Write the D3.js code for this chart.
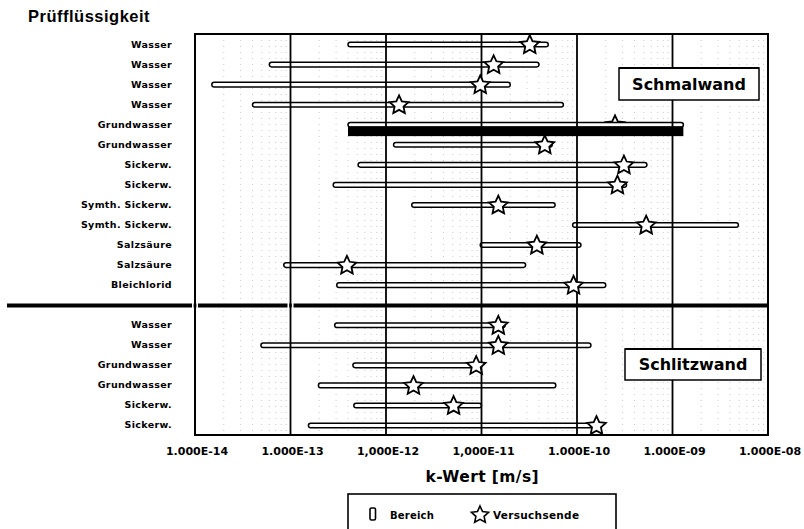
<!DOCTYPE html>
<html><head><meta charset="utf-8">
<script src="https://cdn.jsdelivr.net/npm/d3@7"></script>
<style>
html,body{margin:0;padding:0;background:#fff;}
svg{display:block;}
text{font-family:"DejaVu Sans",Verdana,sans-serif;font-weight:bold;fill:#000;}
</style></head>
<body>
<svg id="chart" width="804" height="529"></svg>
<script>
// ---- data ----
const categories = ["Wasser","Wasser","Wasser","Wasser","Grundwasser","Grundwasser","Sickerw.","Sickerw.","Symth. Sickerw.","Symth. Sickerw.","Salzsäure","Salzsäure","Bleichlorid","","Wasser","Wasser","Grundwasser","Grundwasser","Sickerw.","Sickerw."];
const rangeLow  = [4.0e-13,6.0e-14,1.5e-14,4.0e-14,4.0e-13,1.2e-12,5.1e-13,2.8e-13,1.86e-12,9.0e-11,9.7e-12,8.5e-14,3.05e-13,null,2.9e-13,4.9e-14,4.5e-13,1.96e-13,4.6e-13,1.54e-13];
const rangeHigh = [5.0e-11,4.0e-11,2.0e-11,7.2e-11,1.3e-9,5.5e-11,5.4e-10,3.3e-10,5.9e-11,4.9e-9,1.1e-10,2.9e-11,2.0e-10,null,1.77e-11,1.4e-10,9.5e-12,6.0e-11,1.0e-11,1.7e-10];
const testEnd   = [3.2e-11,1.34e-11,9.7e-12,1.37e-12,2.5e-10,4.6e-11,3.1e-10,2.65e-10,1.5e-11,5.3e-10,3.8e-11,3.9e-13,9.2e-11,null,1.5e-11,1.5e-11,8.8e-12,1.94e-12,5.1e-12,1.6e-10];
const filledRow = [false,false,false,false,true,false,false,false,false,false,false,false,false,false,false,false,false,false,false,false];
const separatorIndex = 13;
const tickValues = [1e-14,1e-13,1e-12,1e-11,1e-10,1e-9,1e-8];
const tickLabels = ["1.000E-14","1.000E-13","1,000E-12","1,000E-11","1.000E-10","1.000E-09","1.000E-08"];
const groupNames = ["Schmalwand","Schlitzwand"];
const yTitle = "Prüfflüssigkeit";
const xTitle = "k-Wert [m/s]";
const legendLabels = ["Bereich","Versuchsende"];

// ---- layout ----
const svg = d3.select("#chart");
const L = 195, R = 768, T = 34, B = 435;
const x = d3.scaleLog().domain([1e-14,1e-8]).range([L,R]);
const y = d3.scaleBand().domain(d3.range(categories.length)).range([T,B]).padding(0);
const cy = i => y(i) + y.bandwidth()/2;

function starPath(r){
  const pts = d3.range(10).map(k=>{
    const rr = k%2===0 ? r : r*0.48;
    const a = -Math.PI/2 + k*Math.PI/5;
    return [rr*Math.cos(a), rr*Math.sin(a)];
  });
  return d3.line()(pts) + "Z";
}

// minor gridlines (dotted, faint)
const minors = [];
for(let e=-14;e<-8;e++) for(let m=2;m<=9;m++) minors.push(m*Math.pow(10,e));
svg.append("g").selectAll("line").data(minors).join("line")
  .attr("x1",d=>x(d)).attr("x2",d=>x(d)).attr("y1",T).attr("y2",B)
  .attr("stroke","#000").attr("stroke-width",0.9).attr("stroke-dasharray","1,5")
  .attr("opacity",0.22);

const rows = d3.range(categories.length).filter(i=>rangeLow[i]!==null);

// stars under filled rows
const gStarsUnder = svg.append("g");
gStarsUnder.selectAll("path").data(rows.filter(i=>filledRow[i])).join("path")
  .attr("d",starPath(9.8))
  .attr("transform",i=>`translate(${x(testEnd[i])},${cy(i)+1})`)
  .attr("fill","#fff").attr("stroke","#000").attr("stroke-width",1.8);

// range bars
const barH = 4.6;
svg.append("g").selectAll("rect").data(rows).join("rect")
  .attr("x",i=>x(rangeLow[i])).attr("width",i=>x(rangeHigh[i])-x(rangeLow[i]))
  .attr("y",i=>cy(i)+0.5-barH/2).attr("height",barH)
  .attr("rx",2.3).attr("ry",2.3)
  .attr("fill","#fff").attr("stroke","#000").attr("stroke-width",1.5);
// filled (solid) bars
svg.append("g").selectAll("rect").data(rows.filter(i=>filledRow[i])).join("rect")
  .attr("x",i=>x(rangeLow[i])).attr("width",i=>x(rangeHigh[i])-x(rangeLow[i]))
  .attr("y",i=>cy(i)+2.3).attr("height",9.6)
  .attr("fill","#000");

// decade gridlines
svg.append("g").selectAll("line").data(tickValues.slice(1,-1)).join("line")
  .attr("x1",d=>x(d)).attr("x2",d=>x(d)).attr("y1",T).attr("y2",B)
  .attr("stroke","#000").attr("stroke-width",1.8);

// stars
svg.append("g").selectAll("path").data(rows.filter(i=>!filledRow[i])).join("path")
  .attr("d",starPath(9.8))
  .attr("transform",i=>`translate(${x(testEnd[i])},${cy(i)+1})`)
  .attr("fill","#fff").attr("stroke","#000").attr("stroke-width",1.8).attr("stroke-linejoin","miter");

// separator
const sepY = cy(separatorIndex)+0.8;
svg.append("line").attr("x1",7).attr("x2",R).attr("y1",sepY).attr("y2",sepY)
  .attr("stroke","#000").attr("stroke-width",4);
[x(1e-14), x(1e-13)].forEach(xx=>{
  svg.append("rect").attr("x",xx-3).attr("width",1.6).attr("y",sepY-2.5).attr("height",5).attr("fill","#fff");
  svg.append("rect").attr("x",xx+1.4).attr("width",1.6).attr("y",sepY-2.5).attr("height",5).attr("fill","#fff");
});

// plot border
svg.append("rect").attr("x",L).attr("y",T).attr("width",R-L).attr("height",B-T)
  .attr("fill","none").attr("stroke","#000").attr("stroke-width",2);

// x axis (labels only)
const xAxis = d3.axisBottom(x).tickValues(tickValues).tickSize(0)
  .tickFormat((d,i)=>tickLabels[i]);
const gx = svg.append("g").attr("transform",`translate(0,${B})`).call(xAxis);
gx.select(".domain").remove();
gx.selectAll("text").attr("dy",0).attr("y",20).attr("x",1.5).style("font-size","11px")
  .style("font-family","'DejaVu Sans',sans-serif").style("font-weight","bold");

// category labels
svg.append("g").selectAll("text").data(rows).join("text")
  .attr("x",172).attr("y",i=>cy(i)+3.5).attr("text-anchor","end")
  .style("font-size","9.5px").style("letter-spacing","0.35px")
  .text(i=>categories[i]);

// titles
svg.append("text").attr("x",28).attr("y",22)
  .style("font-family","'Liberation Sans',Arial,sans-serif").style("font-size","16.5px")
  .style("letter-spacing","0.5px").text(yTitle);
svg.append("text").attr("x",(x(1e-11)+x(1e-10))/2 - 47).attr("y",482).attr("text-anchor","middle")
  .style("font-size","15.5px").style("letter-spacing","0.4px").text(xTitle);

// group boxes
const boxes = [
  {name:groupNames[0], x0:619, x1:759, y0:68, y1:100, ty:90},
  {name:groupNames[1], x0:625, x1:761, y0:349, y1:380, ty:370}
];
boxes.forEach(b=>{
  svg.append("rect").attr("x",b.x0).attr("y",b.y0).attr("width",b.x1-b.x0).attr("height",b.y1-b.y0)
    .attr("fill","#fff").attr("stroke","#000").attr("stroke-width",1.5);
  svg.append("line").attr("x1",b.x0).attr("x2",b.x1).attr("y1",b.y0).attr("y2",b.y0)
    .attr("stroke","#000").attr("stroke-width",2.2);
  svg.append("text").attr("x",(b.x0+b.x1)/2).attr("y",b.ty).attr("text-anchor","middle")
    .style("font-size","16px").text(b.name);
});

// legend
const lg = svg.append("g");
lg.append("rect").attr("x",348).attr("y",494).attr("width",268).attr("height",60)
  .attr("fill","#fff").attr("stroke","#000").attr("stroke-width",1.6);
lg.append("rect").attr("x",370).attr("y",508).attr("width",5.5).attr("height",12).attr("rx",1.5)
  .attr("fill","#fff").attr("stroke","#000").attr("stroke-width",1.6);
lg.append("text").attr("x",390).attr("y",519).style("font-size","10px").style("letter-spacing","0.2px").text(legendLabels[0]);
lg.append("path").attr("d",starPath(9)).attr("transform","translate(480,515)")
  .attr("fill","#fff").attr("stroke","#000").attr("stroke-width",1.6);
lg.append("text").attr("x",493).attr("y",519).style("font-size","10.5px").style("letter-spacing","0.3px").text(legendLabels[1]);
</script>
</body></html>
